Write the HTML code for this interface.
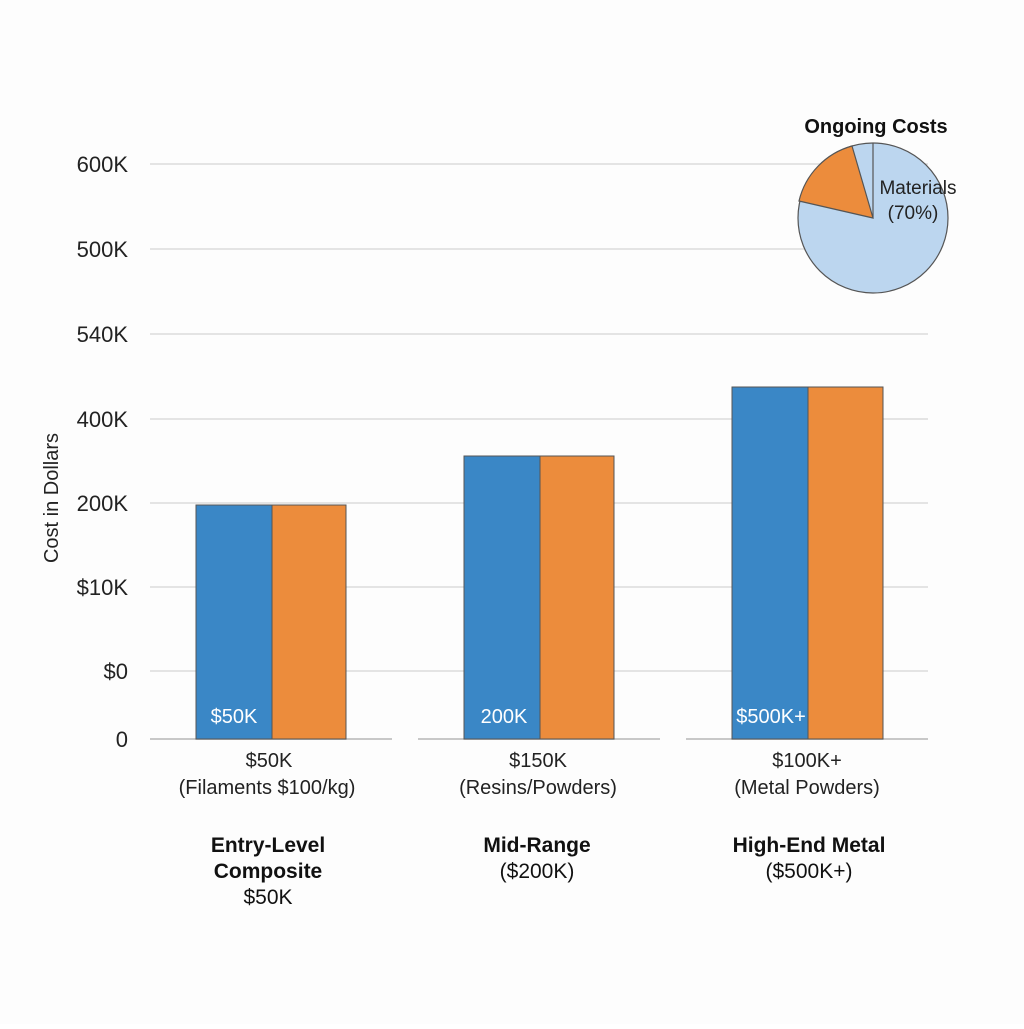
<!DOCTYPE html>
<html><head><style>
body{margin:0;background:#fff;}
svg text{font-family:"Liberation Sans",sans-serif;}
</style></head><body>
<svg width="1024" height="1024" viewBox="0 0 1024 1024" xmlns="http://www.w3.org/2000/svg">
<rect width="1024" height="1024" fill="#fdfdfd"/>
<g stroke="#dcdcdc" stroke-width="1.5">
<line x1="150" y1="164" x2="928" y2="164"/>
<line x1="150" y1="249" x2="928" y2="249"/>
<line x1="150" y1="334" x2="928" y2="334"/>
<line x1="150" y1="419" x2="928" y2="419"/>
<line x1="150" y1="503" x2="928" y2="503"/>
<line x1="150" y1="587" x2="928" y2="587"/>
<line x1="150" y1="671" x2="928" y2="671"/>
</g>
<g stroke="#c8c8c8" stroke-width="2">
<line x1="150" y1="739" x2="392" y2="739"/>
<line x1="418" y1="739" x2="660" y2="739"/>
<line x1="686" y1="739" x2="928" y2="739"/>
</g>
<g font-size="22" fill="#222" text-anchor="end">
<text x="128" y="172">600K</text>
<text x="128" y="257">500K</text>
<text x="128" y="342">540K</text>
<text x="128" y="427">400K</text>
<text x="128" y="511">200K</text>
<text x="128" y="595">$10K</text>
<text x="128" y="679">$0</text>
<text x="128" y="747">0</text>
</g>
<text transform="translate(58,498) rotate(-90)" font-size="20" fill="#222" text-anchor="middle">Cost in Dollars</text>
<g stroke="#555" stroke-width="1">
<rect x="196" y="505" width="76" height="234" fill="#3a87c6"/>
<rect x="272" y="505" width="74" height="234" fill="#ec8c3c"/>
<rect x="464" y="456" width="76" height="283" fill="#3a87c6"/>
<rect x="540" y="456" width="74" height="283" fill="#ec8c3c"/>
<rect x="732" y="387" width="76" height="352" fill="#3a87c6"/>
<rect x="808" y="387" width="75" height="352" fill="#ec8c3c"/>
</g>
<g font-size="20" fill="#fff" text-anchor="middle">
<text x="234" y="723">$50K</text>
<text x="504" y="723">200K</text>
<text x="771" y="723">$500K+</text>
</g>
<g font-size="20" fill="#222" text-anchor="middle">
<text x="269" y="767">$50K</text>
<text x="267" y="794">(Filaments $100/kg)</text>
<text x="538" y="767">$150K</text>
<text x="538" y="794">(Resins/Powders)</text>
<text x="807" y="767">$100K+</text>
<text x="807" y="794">(Metal Powders)</text>
</g>
<g font-size="21" fill="#111" text-anchor="middle">
<text x="268" y="852" font-weight="bold">Entry-Level</text>
<text x="268" y="878" font-weight="bold">Composite</text>
<text x="268" y="904">$50K</text>
<text x="537" y="852" font-weight="bold">Mid-Range</text>
<text x="537" y="878">($200K)</text>
<text x="809" y="852" font-weight="bold">High-End Metal</text>
<text x="809" y="878">($500K+)</text>
</g>
<text x="876" y="133" font-size="20" font-weight="bold" fill="#111" text-anchor="middle">Ongoing Costs</text>
<g stroke="#555" stroke-width="1.2">
<circle cx="873" cy="218" r="75" fill="#bcd6ef"/>
<path d="M873,218 L852,146 A75,75 0 0 0 799,201 Z" fill="#ec8c3c"/>
<line x1="873" y1="218" x2="873" y2="143"/>
</g>
<text x="918" y="194" font-size="19" fill="#222" text-anchor="middle">Materials</text>
<text x="913" y="219" font-size="19" fill="#222" text-anchor="middle">(70%)</text>
</svg>
</body></html>
